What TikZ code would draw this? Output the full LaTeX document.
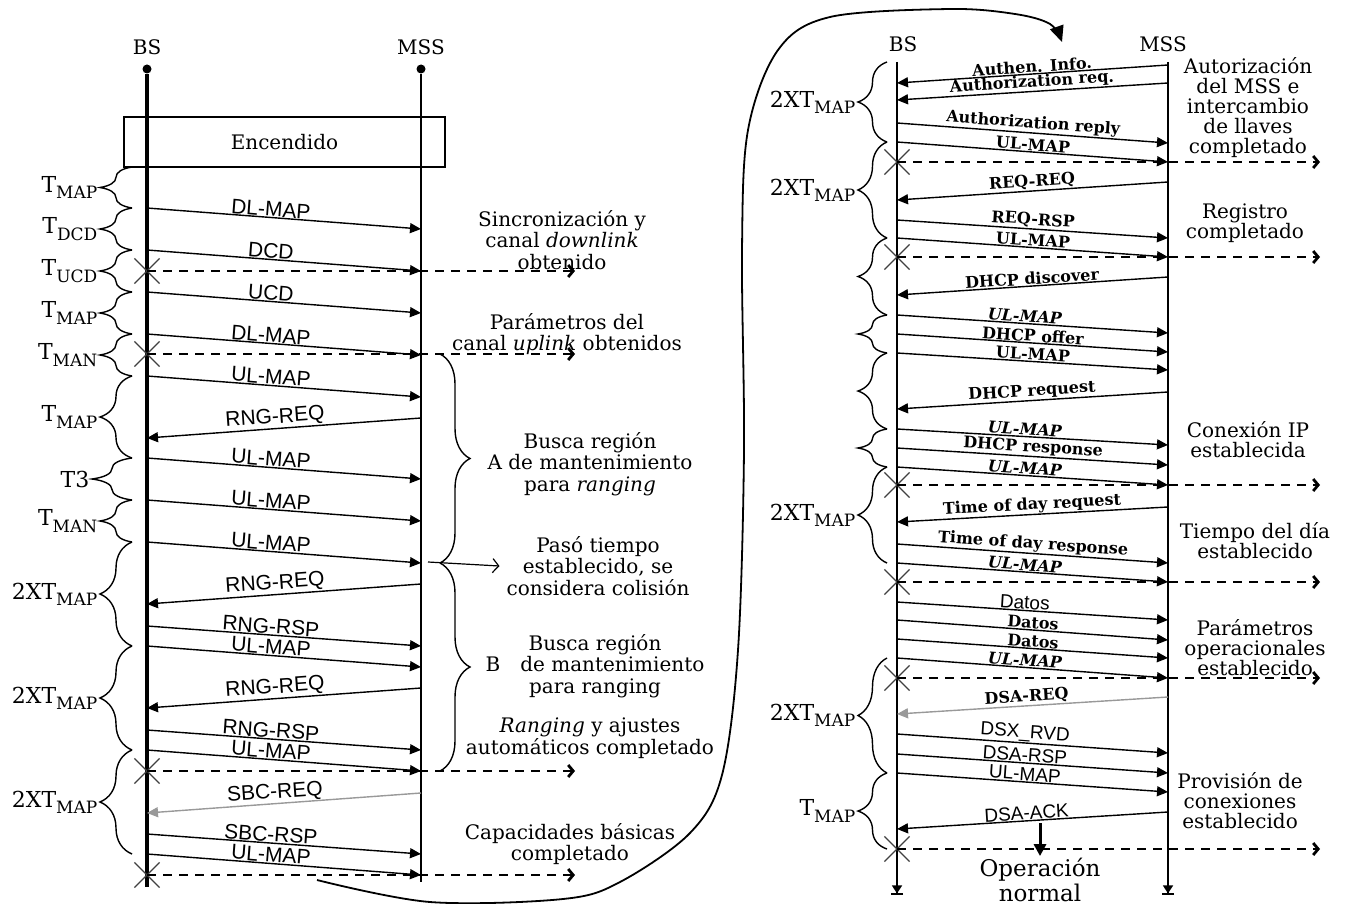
\documentclass[tikz,border=0pt]{standalone}
\usepackage{fontspec}
\setmainfont{DejaVu Serif}
\newfontfamily\msgfont{Liberation Sans}
\usetikzlibrary{arrows.meta, decorations.pathreplacing, shapes.misc}
\newcommand{\tm}[1]{T\raisebox{-0.55ex}{\fontsize{8.5}{8.5}\selectfont #1}}
\tikzset{
    lifeA/.style={line width=2pt}, % thick BS line of the first part
    lifeB/.style={line width=1pt},
    lifeR/.style={line width=0.8pt, -{Triangle[length=4pt,width=5pt]Bar[width=6pt,line width=0.8pt]}},
    dot/.style={circle, fill, inner sep=0pt, minimum size=4.5pt},
    msg/.style={line width=0.7pt, -{Triangle[length=5.5pt,width=5pt]}},
    lblL/.style={sloped, above, inner sep=0.3pt, pos=0.45, font=\msgfont\fontsize{10.5}{10.5}\selectfont},
    lblR/.style={sloped, above, inner sep=0.3pt, font=\bfseries\fontsize{8}{8.5}\selectfont},
    lblRi/.style={lblR, font=\bfseries\itshape\fontsize{8}{8.5}\selectfont},
    lblRs/.style={sloped, above, inner sep=0.3pt, font=\msgfont\fontsize{9.5}{9.5}\selectfont},
    fin/.style={line width=0.7pt, dash pattern=on 4.5pt off 3.5pt, -{Straight Barb[length=2.5pt,width=6pt,line width=1.4pt]}},
    xmark/.style={cross out, draw=black!75, line width=0.6pt, minimum size=12pt, inner sep=0pt},
    tbr/.style={decorate, decoration={brace, amplitude=16pt}, line width=0.7pt},
    tbrR/.style={decorate, decoration={brace, amplitude=14.5pt}, line width=0.7pt},
    tlab/.style={font=\fontsize{11}{12}\selectfont, inner sep=1pt},
    note/.style={align=center, font=\fontsize{10}{10.8}\selectfont},
    noteR/.style={align=center, font=\fontsize{10}{10}\selectfont}
}

\begin{document}
\begin{tikzpicture}[x=0.5pt, y=-0.5pt]
    \useasboundingbox (0,0) rectangle (1348,904);

    % first part: BS and MSS
    \node (bsA) at (147,47) {BS};
    \node (mssA) at (421,47) {MSS};
    \node[dot] (bsAtop) at (147,69) {};
    \node[dot] (mssAtop) at (421,69) {};
    \draw[lifeA] (bsAtop) -- (147,887);
    \draw[lifeB] (mssAtop) -- (421,882);
    \node[draw, line width=0.7pt, minimum width=160.5pt, minimum height=25pt] (enc) at (284.5,142) {Encendido};

    % messages BS -> MSS
    \foreach \ya/\yb/\txt in {208/229/DL-MAP, 250/271/DCD, 292/313/UCD, 334/355/DL-MAP,
        376/397/UL-MAP, 458/479/UL-MAP, 500/521/UL-MAP, 542/563/UL-MAP,
        626/646/RNG-RSP, 646/667/UL-MAP, 730/750/RNG-RSP, 750/771/UL-MAP,
        834/854/SBC-RSP, 854/875/UL-MAP}
        \draw[msg] (bsAtop |- 0,\ya) -- (mssAtop |- 0,\yb) node[lblL] {\txt};
    % messages MSS -> BS
    \foreach \ya/\yb in {418/438, 584/604, 688/708}
        \draw[msg] (mssAtop |- 0,\ya) -- (bsAtop |- 0,\yb) node[lblL, pos=0.53] {RNG-REQ};
    \draw[msg, draw=black!40] (mssAtop |- 0,793) -- (bsAtop |- 0,813) node[lblL, pos=0.53, text=black] {SBC-REQ};

    % time outs
    \foreach \y [count=\i] in {271, 354, 771, 875} {
        \node[xmark] (xa\i) at (147,\y) {};
        \draw[fin] (bsAtop |- 0,\y) -- (575,\y);
    }

    % timers
    \foreach \ya/\yb/\txt in {167/208/\tm{MAP}, 208/250/\tm{DCD}, 250/292/\tm{UCD},
        292/334/\tm{MAP}, 334/376/\tm{MAN}, 376/458/\tm{MAP}, 500/542/\tm{MAN},
        542/646/2X\tm{MAP}, 646/750/2X\tm{MAP}, 750/854/2X\tm{MAP}}
        \draw[tbr] (132,\yb) -- (132,\ya) node[midway, left=16pt, tlab] {\txt};
    \draw[tbr, decoration={amplitude=20pt}] (132,500) -- (132,458) node[midway, left=20pt, tlab] {T3};
    \draw[tbr, decoration={amplitude=15pt}] (440,354) -- (440,563);
    \draw[tbr, decoration={amplitude=15pt}] (440,563) -- (440,771);

    % notes of the first part
    \node[note] (sinc) at (562,240) {Sincronización y\\canal \textit{downlink}\\obtenido};
    \node[note] (upl) at (567,334) {Parámetros del\\canal \textit{uplink} obtenidos};
    \node[note] (busA) at (590,464) {Busca región\\A de mantenimiento\\para \textit{ranging}};
    \node[note] (colis) at (598,566) {Pasó tiempo\\establecido, se\\considera colisión};
    \node[note] (busB) at (595,666) {Busca región\\B\quad de mantenimiento\\para ranging};
    \node[note] (rang) at (590,738) {\textit{Ranging} y ajustes\\automáticos completado};
    \node[note] (capac) at (570,844) {Capacidades básicas\\completado};
    \draw[line width=0.6pt, -{Straight Barb[length=3pt,width=7pt]}] (428,562) -- (colis.west);

    % second part: BS and MSS
    \node (bsB) at (903,44) {BS};
    \node (mssB) at (1163,44) {MSS};
    \coordinate (bsBtop) at (897,62);
    \coordinate (mssBtop) at (1168,62);
    \draw[lifeR] (bsBtop) -- (897,895);
    \draw[lifeR] (mssBtop) -- (1168,895);

    % messages BS -> MSS
    \foreach \ya/\yb/\txt in {123/143/Authorization reply, 142/162/UL-MAP, 220/238/REQ-RSP,
        238/257/UL-MAP, 334/352/DHCP offer, 353/370/UL-MAP, 448/465/DHCP response,
        544/563/Time of day response, 620/640/Datos, 639/658/Datos}
        \draw[msg] (bsBtop |- 0,\ya) -- (mssBtop |- 0,\yb) node[lblR, midway] {\txt};
    \foreach \ya/\yb in {315/333, 429/445, 467/485, 563/582, 658/678}
        \draw[msg] (bsBtop |- 0,\ya) -- (mssBtop |- 0,\yb) node[lblRi, pos=0.47] {UL-MAP};
    \foreach \ya/\yb/\txt in {602/620/Datos, 734/753/DSX\_RVD, 754/773/DSA-RSP, 773/792/UL-MAP}
        \draw[msg] (bsBtop |- 0,\ya) -- (mssBtop |- 0,\yb) node[lblRs, pos=0.47] {\txt};
    % messages MSS -> BS
    \foreach \ya/\yb/\txt in {65/83/Authen. Info., 83/100/Authorization req., 182/200/REQ-REQ,
        277/295/DHCP discover, 392/409/DHCP request, 507/522/Time of day request}
        \draw[msg] (mssBtop |- 0,\ya) -- (bsBtop |- 0,\yb) node[lblR, midway] {\txt};
    \draw[msg, draw=black!40] (mssBtop |- 0,697) -- (bsBtop |- 0,714) node[lblR, pos=0.52, text=black] {DSA-REQ};
    \draw[msg] (mssBtop |- 0,812) -- (bsBtop |- 0,829) node[lblRs, pos=0.52] {DSA-ACK};

    % time outs
    \foreach \y [count=\i] in {162, 257, 485, 582, 678, 849} {
        \node[xmark] (xb\i) at (897,\y) {};
        \draw[fin] (bsBtop |- 0,\y) -- (1320,\y);
    }

    % timers
    \foreach \ya/\yb/\txt in {62/142/2X\tm{MAP}, 142/238/2X\tm{MAP}, 467/563/2X\tm{MAP},
        658/773/2X\tm{MAP}, 773/849/\tm{MAP}}
        \draw[tbrR] (887,\yb) -- (887,\ya) node[midway, left=14.5pt, tlab] {\txt};
    \foreach \ya/\yb in {238/315, 315/353, 353/429, 429/467}
        \draw[tbrR] (887,\yb) -- (887,\ya);

    % notes of the second part
    \node[noteR] (auto) at (1248,108) {Autorización\\del MSS e\\intercambio\\de llaves\\completado};
    \node[noteR] (regi) at (1245,223) {Registro\\completado};
    \node[noteR] (conip) at (1248,440) {Conexión IP\\establecida};
    \node[noteR] (tdia) at (1255,541) {Tiempo del día\\establecido};
    \node[noteR] (oppar) at (1255,648) {Parámetros\\operacionales\\establecido};
    \node[noteR] (prov) at (1240,801) {Provisión de\\conexiones\\establecido};
    \node[align=center, font=\fontsize{11.5}{11}\selectfont, inner sep=1pt] (oper) at (1040,880) {Operación\\normal};
    \coordinate (operin) at (1040,823);
    \draw[line width=1.5pt, -{Triangle[length=6pt,width=6pt]}] (operin) -- (oper.north);

    % link between both parts
    \draw[line width=0.9pt, -{Triangle[length=8pt,width=7pt]}] plot[smooth, tension=0.55] coordinates {(317,880) (430,902) (563,899) (620,882) (690,833) (722,775) (738,650) (744,450) (742,250) (748,130) (778,50) (830,17) (950,9) (1015,14) (1050,24) (1062,42)};
\end{tikzpicture}
\end{document}
